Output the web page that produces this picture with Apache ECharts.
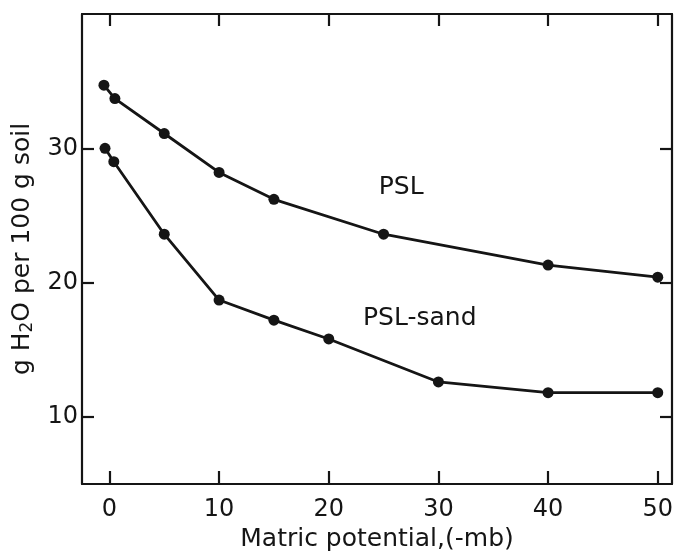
<!DOCTYPE html>
<html>
<head>
<meta charset="utf-8">
<script src="https://cdn.jsdelivr.net/npm/echarts@6/dist/echarts.min.js"></script>
<style>
  html, body { margin: 0; padding: 0; background: #fff; }
  #chart { width: 677px; height: 555px; }
</style>
</head>
<body>
<div id="chart"></div>
<script>
// values
const pslX = [-0.5, 0.5, 5, 10, 15, 25, 40, 50];
const pslY = [34.7, 33.7, 31.1, 28.2, 26.2, 23.6, 21.3, 20.4];
const sandX = [-0.4, 0.4, 5, 10, 15, 20, 30, 40, 50];
const sandY = [30.0, 29.0, 23.6, 18.7, 17.2, 15.8, 12.6, 11.8, 11.8];
const xTicks = [0, 10, 20, 30, 40, 50];
const yTicks = [10, 20, 30];
const curveLabels = [
    { name: 'PSL', x: 26.6, y: 27.1 },
    { name: 'PSL-sand', x: 28.3, y: 17.3 }
];

const chart = echarts.init(document.getElementById('chart'));
const ink = '#151515';
const font = 'DejaVu Sans';

function pairs(xs, ys) {
    return xs.map((x, i) => [x, ys[i]]);
}

function lineSeries(name, xs, ys) {
    return {
        name: name,
        type: 'line',
        data: pairs(xs, ys),
        symbol: 'circle',
        symbolSize: 11,
        itemStyle: { color: ink },
        lineStyle: { color: ink, width: 2.8 },
        z: 3
    };
}

const xBase = {
    type: 'value',
    min: -2.5,
    max: 51.3,
    splitLine: { show: false },
    axisLine: { show: true, onZero: false, lineStyle: { color: ink, width: 2.2 } }
};
const yBase = {
    type: 'value',
    min: 5,
    max: 40,
    splitLine: { show: false },
    axisLine: { show: true, onZero: false, lineStyle: { color: ink, width: 2.2 } }
};

const option = {
    backgroundColor: '#fff',
    animation: false,
    grid: { left: 82, right: 5, top: 14, bottom: 71, outerBoundsMode: 'none', containLabel: false },
    xAxis: [
        Object.assign({}, xBase, {
            position: 'bottom',
            name: 'Matric potential,(-mb)',
            nameLocation: 'middle',
            nameGap: 40,
            nameTextStyle: { color: ink, fontFamily: font, fontSize: 25 },
            axisTick: { show: true, inside: true, length: 13, customValues: xTicks, lineStyle: { color: ink, width: 2.2 } },
            axisLabel: { customValues: xTicks, color: ink, fontFamily: font, fontSize: 24, margin: 14 }
        }),
        Object.assign({}, xBase, {
            position: 'top',
            axisTick: { show: true, inside: true, length: 12, customValues: xTicks, lineStyle: { color: ink, width: 2.2 } },
            axisLabel: { show: false }
        })
    ],
    yAxis: [
        Object.assign({}, yBase, {
            position: 'left',
            name: 'g H{sub|2}O per 100 g soil',
            nameLocation: 'middle',
            nameRotate: 90,
            nameGap: 37,
            nameTextStyle: {
                color: ink, fontFamily: font, fontSize: 25,
                rich: { sub: { fontSize: 17, fontFamily: font, color: ink, verticalAlign: 'bottom', padding: [11, 0, 0, 0] } }
            },
            axisTick: { show: true, inside: true, length: 12, customValues: yTicks, lineStyle: { color: ink, width: 2.2 } },
            axisLabel: { customValues: yTicks, color: ink, fontFamily: font, fontSize: 24, margin: 4 }
        }),
        Object.assign({}, yBase, {
            position: 'right',
            axisTick: { show: true, inside: true, length: 12, customValues: yTicks, lineStyle: { color: ink, width: 2.2 } },
            axisLabel: { show: false }
        })
    ],
    series: [
        lineSeries('PSL', pslX, pslY),
        lineSeries('PSL-sand', sandX, sandY),
        {
            type: 'scatter',
            data: curveLabels.map(l => ({ name: l.name, value: [l.x, l.y] })),
            symbolSize: 0,
            itemStyle: { opacity: 1, color: ink },
            label: {
                show: true,
                position: 'inside',
                formatter: p => p.name,
                color: ink,
                fontFamily: font,
                fontSize: 25
            },
            silent: true
        }
    ]
};

chart.setOption(option);
window.addEventListener('resize', () => chart.resize());
</script>
</body>
</html>
